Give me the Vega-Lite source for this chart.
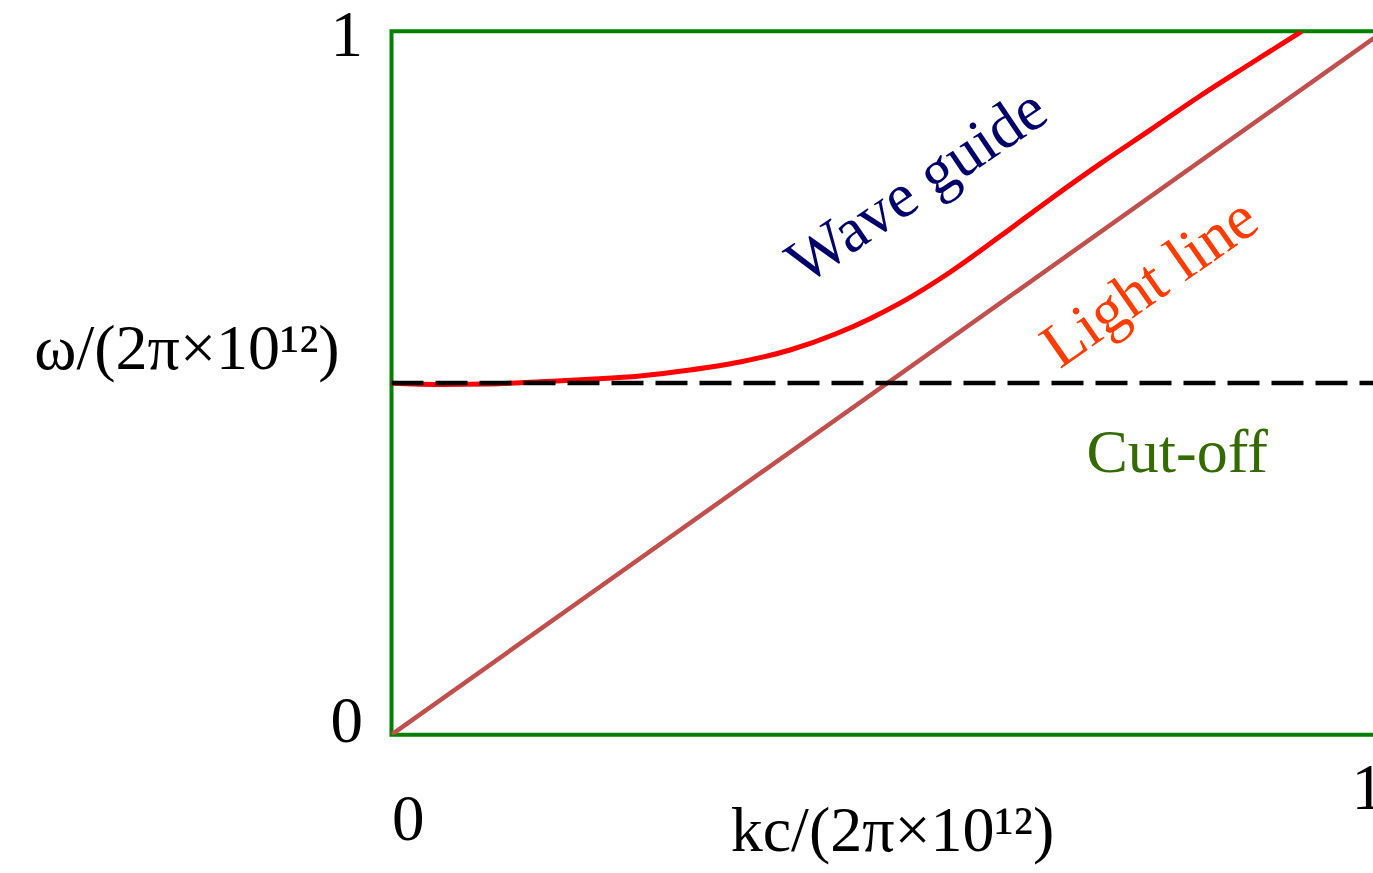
{
  "$schema": "https://vega.github.io/schema/vega-lite/v6.json",
  "autosize": {"type": "none"},
  "padding": {"left": 391.5, "top": 31.3, "right": -10.5, "bottom": 138.3},
  "width": 992,
  "height": 703.4,
  "background": "white",
  "config": {
    "view": {"stroke": "#008000", "strokeWidth": 4},
    "font": "Liberation Serif"
  },
  "datasets": {
    "waveguide": [
      {"k": 0.0, "w": 0.4996},
      {"k": 0.0489, "w": 0.4979},
      {"k": 0.0993, "w": 0.4986},
      {"k": 0.1497, "w": 0.5018},
      {"k": 0.2001, "w": 0.5053},
      {"k": 0.2505, "w": 0.51},
      {"k": 0.3009, "w": 0.5185},
      {"k": 0.3513, "w": 0.5299},
      {"k": 0.4017, "w": 0.5469},
      {"k": 0.4488, "w": 0.5704},
      {"k": 0.4824, "w": 0.5915},
      {"k": 0.5126, "w": 0.6135},
      {"k": 0.563, "w": 0.6575},
      {"k": 0.6134, "w": 0.7085},
      {"k": 0.6638, "w": 0.761},
      {"k": 0.7142, "w": 0.8115},
      {"k": 0.7646, "w": 0.8595},
      {"k": 0.815, "w": 0.908},
      {"k": 0.8654, "w": 0.9535},
      {"k": 0.9175, "w": 1.0}
    ],
    "lightline": [{"k": 0, "w": 0}, {"k": 1, "w": 1}],
    "cutoff": [{"k": 0, "w": 0.5}, {"k": 1, "w": 0.5}]
  },
  "encoding": {
    "x": {
      "field": "k",
      "type": "quantitative",
      "scale": {"domain": [0, 1], "nice": false, "zero": false},
      "axis": {
        "values": [0, 1],
        "format": "d",
        "title": "kc/(2π×10¹²)",
        "domain": false,
        "ticks": false,
        "tickSize": 0,
        "grid": false,
        "labelFlush": true,
        "labelFont": "Liberation Serif",
        "labelFontSize": 65,
        "labelColor": "black",
        "labelPadding": 53.9,
        "labelBaseline": {"condition": {"test": "datum.value === 0", "value": "top"}, "value": "middle"},
        "titleFont": "Liberation Serif",
        "titleFontSize": 64,
        "titleFontWeight": "normal",
        "titleColor": "black",
        "titleX": 500.5,
        "titleY": 116,
        "titleAlign": "center",
        "titleBaseline": "alphabetic"
      }
    },
    "y": {
      "field": "w",
      "type": "quantitative",
      "scale": {"domain": [0, 1], "nice": false, "zero": false},
      "axis": {
        "values": [0, 1],
        "format": "d",
        "title": "ω/(2π×10¹²)",
        "domain": false,
        "ticks": false,
        "tickSize": 0,
        "grid": false,
        "labelFlush": false,
        "labelFont": "Liberation Serif",
        "labelFontSize": 65,
        "labelColor": "black",
        "labelPadding": 29,
        "labelBaseline": "middle",
        "labelOffset": {"condition": {"test": "datum.value === 0", "value": -13}, "value": 4},
        "titleFont": "Liberation Serif",
        "titleFontSize": 64,
        "titleFontWeight": "normal",
        "titleColor": "black",
        "titleAngle": 0,
        "titleX": -205,
        "titleY": 337,
        "titleAlign": "center",
        "titleBaseline": "alphabetic"
      }
    }
  },
  "layer": [
    {
      "data": {"name": "lightline"},
      "mark": {"type": "line", "color": "#c0504d", "strokeWidth": 4.5, "clip": true}
    },
    {
      "data": {"name": "waveguide"},
      "mark": {"type": "line", "color": "#ff0000", "strokeWidth": 5, "interpolate": "monotone", "clip": true}
    },
    {
      "data": {"name": "cutoff"},
      "mark": {"type": "line", "color": "black", "strokeWidth": 4.5, "strokeDash": [32, 12], "clip": true}
    },
    {
      "data": {"values": [{"k": 0.53, "w": 0.779, "label": "Wave guide"}]},
      "mark": {"type": "text", "angle": 326, "fontSize": 63, "font": "Liberation Serif", "color": "#00006b", "align": "center", "baseline": "middle"},
      "encoding": {"text": {"field": "label"}}
    },
    {
      "data": {"values": [{"k": 0.7646, "w": 0.642, "label": "Light line"}]},
      "mark": {"type": "text", "angle": 325, "fontSize": 63, "font": "Liberation Serif", "color": "#ff3d00", "align": "center", "baseline": "middle"},
      "encoding": {"text": {"field": "label"}}
    },
    {
      "data": {"values": [{"k": 0.792, "w": 0.3735, "label": "Cut-off"}]},
      "mark": {"type": "text", "fontSize": 62, "font": "Liberation Serif", "color": "#356a00", "align": "center", "baseline": "alphabetic"},
      "encoding": {"text": {"field": "label"}}
    }
  ]
}
